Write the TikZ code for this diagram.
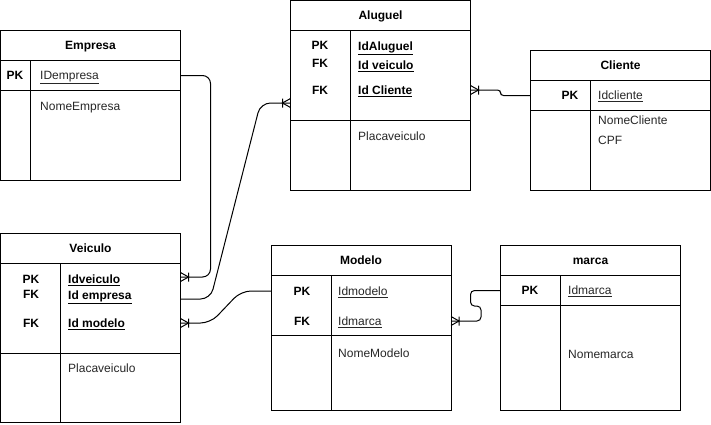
\documentclass[tikz,border=0pt]{standalone}
\usepackage{fontspec}
\setmainfont{Liberation Sans}
\usetikzlibrary{calc}
\begin{document}
\begin{tikzpicture}[x=1pt,y=-1pt,
  font=\fontsize{12}{14}\selectfont,
  box/.style={draw=black, line width=1pt, inner sep=0pt, outer sep=0pt,
    anchor=north west, minimum width=180pt},
  title/.style={font=\fontsize{12}{14}\selectfont\bfseries, text=black,
    text height=10pt, text depth=1.5pt},
  keytag/.style={font=\fontsize{12}{14}\selectfont\bfseries, inner sep=0pt,
    text height=10pt, text depth=1.5pt, text=black},
  fld/.style={anchor=west, inner sep=0pt, text height=10pt, text depth=1.5pt,
    text=black!85},
  bfld/.style={fld, font=\fontsize{12}{14}\selectfont\bfseries, text=black},
  divider/.style={draw=black, line width=1pt},
  link/.style={draw=black, line width=1pt},
  crowfoot/.pic={\draw[line width=1pt] (0,-4.5) -- (8,0) -- (0,4.5) (8,-4.5) -- (8,4.5);},
]
\useasboundingbox (0,0) rectangle (711,424);

% ---------- Empresa ----------
\node[box, title, minimum height=30pt] (empH) at (0.5,30) {Empresa};
\node[box, minimum height=30pt] (empK) at (0.5,60) {};
\node[box, minimum height=90pt] (empA) at (0.5,90) {};
\draw[divider] (30.5,60) -- (30.5,180);
\node[keytag] (empPK) at (15,75.5) {PK};
\node[fld] (empId) at (40,75.5) {\underline{IDempresa}};
\node[fld] (empNome) at (40,106) {NomeEmpresa};

% ---------- Veiculo ----------
\node[box, title, minimum height=30pt] (vehH) at (0.5,233) {Veiculo};
\node[box, minimum height=90pt] (vehK) at (0.5,263) {};
\node[box, minimum height=69.5pt] (vehA) at (0.5,353) {};
\draw[divider] (60.5,263) -- (60.5,422.5);
\node[keytag] (vehPK) at (31,279) {PK};
\node[keytag] (vehFK1) at (31,294) {FK};
\node[keytag] (vehFK2) at (31,323) {FK};
\node[bfld] (vehId) at (68,279) {\underline{Idveiculo}};
\node[bfld] (vehEmp) at (68,295) {\underline{Id empresa}};
\node[bfld] (vehMod) at (68,323) {\underline{Id modelo}};
\node[fld] (vehPlaca) at (68,368) {Placaveiculo};

% ---------- Aluguel ----------
\node[box, title, minimum height=29.5pt] (aluH) at (290.5,0.5) {Aluguel};
\node[box, minimum height=90pt] (aluK) at (290.5,30) {};
\node[box, minimum height=70pt] (aluA) at (290.5,120) {};
\draw[divider] (350.5,30) -- (350.5,190);
\node[keytag] (aluPK) at (320,45) {PK};
\node[keytag] (aluFK1) at (320,63) {FK};
\node[keytag] (aluFK2) at (320,90) {FK};
\node[bfld] (aluId) at (358,46) {\underline{IdAluguel}};
\node[bfld] (aluVeh) at (358,65) {\underline{Id veiculo}};
\node[bfld] (aluCli) at (358,90) {\underline{Id Cliente}};
\node[fld] (aluPlaca) at (358,136) {Placaveiculo};

% ---------- Cliente ----------
\node[box, title, minimum height=30pt] (cliH) at (530.5,50) {Cliente};
\node[box, minimum height=30pt] (cliK) at (530.5,80) {};
\node[box, minimum height=80pt] (cliA) at (530.5,110) {};
\draw[divider] (590.5,80) -- (590.5,190);
\node[keytag] (cliPK) at (570,95.5) {PK};
\node[fld] (cliId) at (598,95.5) {\underline{Idcliente}};
\node[fld] (cliNome) at (598,120) {NomeCliente};
\node[fld] (cliCpf) at (598,140) {CPF};

% ---------- Modelo ----------
\node[box, title, minimum height=30pt] (modH) at (271,245) {Modelo};
\node[box, minimum height=60pt] (modK) at (271,275) {};
\node[box, minimum height=75pt] (modA) at (271,335) {};
\draw[divider] (331,275) -- (331,410);
\node[keytag] (modPK) at (302,291) {PK};
\node[keytag] (modFK) at (302,321) {FK};
\node[fld] (modId) at (338,291) {\underline{Idmodelo}};
\node[fld] (modMar) at (338,321) {\underline{Idmarca}};
\node[fld] (modNome) at (338,353) {NomeModelo};

% ---------- marca ----------
\node[box, title, minimum height=30pt] (marH) at (500.5,245) {marca};
\node[box, minimum height=30pt] (marK) at (500.5,275) {};
\node[box, minimum height=105pt] (marA) at (500.5,305) {};
\draw[divider] (560.5,275) -- (560.5,410);
\node[keytag] (marPK) at (530,290.5) {PK};
\node[fld] (marId) at (568,290.5) {\underline{Idmarca}};
\node[fld] (marNome) at (568,354) {Nomemarca};

% ---------- relationships ----------
% Empresa 1 -- N Veiculo
\draw[link, rounded corners=8pt] (empK.east |- empId) -- ++(30,0) |- ($(vehK.east |- vehId)+(0,-2)$);
\pic at ($(vehK.east |- vehId)+(0,-2)$) {crowfoot};

% Veiculo 1 -- N Aluguel
\draw[link, rounded corners=10pt] ($(vehK.east |- vehEmp)+(0,4)$) -- ++(30,0)
  -- ($(aluK.west)+(-30,28)$) -- ($(aluK.west)+(0,28)$);
\pic[rotate=180] at ($(aluK.west)+(0,28)$) {crowfoot};

% Modelo 1 -- N Veiculo
\draw[link, rounded corners=10pt] (vehK.east |- vehMod) -- ++(30,0)
  -- ($(modK.west |- modId)+(-30,0)$) -- (modK.west |- modId);
\pic at (vehK.east |- vehMod) {crowfoot};

% Cliente 1 -- N Aluguel
\draw[link, rounded corners=3pt] (aluK.east |- aluCli) -- ++(30,0) |- (cliK.west |- cliId);
\pic at (aluK.east |- aluCli) {crowfoot};

% marca 1 -- N Modelo
\draw[link, rounded corners=4pt] (modK.east |- modMar) -- ++(30,0) -- ++(0,-15)
  -| ($(marK.west |- marId)+(-30,0)$) -- (marK.west |- marId);
\pic at (modK.east |- modMar) {crowfoot};
\end{tikzpicture}
\end{document}
